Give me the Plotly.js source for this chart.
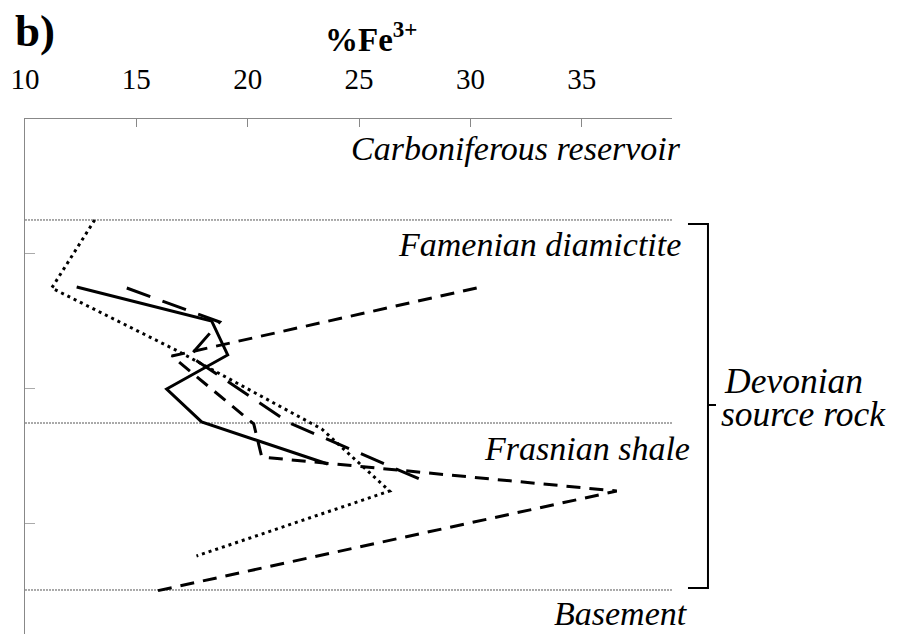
<!DOCTYPE html>
<html>
<head>
<meta charset="utf-8">
<script src="https://cdn.plot.ly/plotly-3.0.1.min.js"></script>
<style>html,body{margin:0;padding:0;background:#fff;}#chart{width:898px;height:634px;}</style>
</head>
<body>
<div id="chart"></div>
<script>
// %Fe3+ profiles (x) against relative depth (y, increasing downward)
const solidX  = [12.32, 18.38, 19.10, 16.36, 17.93, 23.59];
const solidY  = [1.244, 1.496, 1.748, 2.000, 2.244, 2.556];
const dottedX = [13.13, 11.20, 16.86, 23.32, 24.80, 26.37, 17.70];
const dottedY = [0.748, 1.252, 1.719, 2.296, 2.519, 2.756, 3.237];
const longDashX = [14.57, 18.74, 17.40, 21.88, 27.72];
const longDashY = [1.252, 1.504, 1.756, 2.252, 2.667];
const dashX = [30.28, 16.59, 20.27, 20.63, 36.57, 15.91];
const dashY = [1.252, 1.756, 2.259, 2.504, 2.756, 3.496];

// unit boundaries (depth)
const boundaries = [0.748, 2.252, 3.489];
const xTicks = [10, 15, 20, 25, 30, 35];
const yTicks = [1, 2, 3];
const unitLabels = ['Carboniferous reservoir', 'Famenian diamictite', 'Frasnian shale', 'Basement'];
const groupLabel = ['Devonian', 'source rock'];

const serif = 'Liberation Serif';

function tr(x, y, dash) {
  return {x: x, y: y, type: 'scatter', mode: 'lines',
    line: {color: '#000', width: 3, dash: dash}, hoverinfo: 'skip', showlegend: false};
}
const data = [
  tr(dottedX, dottedY, '3px,4px'),
  tr(dashX, dashY, '14px,9px'),
  tr(longDashX, longDashY, '25px,13px'),
  tr(solidX, solidY, 'solid')
];

const shapes = boundaries.map(b => ({
  type: 'line', xref: 'paper', yref: 'y', x0: 0, x1: 1, y0: b, y1: b,
  line: {color: '#555', width: 1, dash: '2px,1px'}, layer: 'below'
}));
shapes.push({
  type: 'path', xref: 'paper', yref: 'paper',
  path: 'M1.0247,0.7961 L1.0556,0.7961 L1.0556,0.4447 L1.068,0.4447 L1.0556,0.4447 L1.0556,0.0893 L1.0247,0.0893',
  line: {color: '#000', width: 2}
});

function ital(s) { return {family: serif, size: s, color: '#000', style: 'italic'}; }
const pos = [
  {x: 1.0170, y: 0.22, xanchor: 'right'},
  {x: 1.0170, y: 0.926, xanchor: 'right'},
  {x: 1.0309, y: 2.44, xanchor: 'right'},
  {x: 1.0278, y: 3.665, xanchor: 'right'}
];
const annotations = unitLabels.map((t, i) => Object.assign({text: t, xref: 'paper', yref: 'y', yanchor: 'middle',
  showarrow: false, font: ital(34)}, pos[i]));
annotations.push({text: groupLabel[0], xref: 'paper', yref: 'y', x: 1.0773, y: 1.94, xanchor: 'left', yanchor: 'middle', showarrow: false, font: ital(35.5)});
annotations.push({text: groupLabel[1], xref: 'paper', yref: 'y', x: 1.0726, y: 2.185, xanchor: 'left', yanchor: 'middle', showarrow: false, font: ital(35.5)});
annotations.push({text: 'b)', xref: 'paper', yref: 'paper', x: -0.019, y: 1.17, xanchor: 'left', yanchor: 'middle',
  showarrow: false, font: {family: serif, size: 45, color: '#000', weight: 'bold'}});
annotations.push({text: '%Fe<sup>3+</sup>', xref: 'paper', yref: 'paper', x: 0.535, y: 1.16, xanchor: 'center', yanchor: 'middle',
  showarrow: false, font: {family: serif, size: 33, color: '#000', weight: 'bold'}});

const layout = {
  width: 898, height: 634,
  margin: {l: 25, r: 226, t: 119, b: 0, pad: 0},
  paper_bgcolor: '#fff', plot_bgcolor: '#fff',
  showlegend: false,
  xaxis: {side: 'top', range: [10, 39.05], tickvals: xTicks, ticks: 'inside', ticklen: 8, tickcolor: '#888',
    showline: true, linecolor: '#888', linewidth: 1, showgrid: false, zeroline: false,
    tickfont: {family: serif, size: 29, color: '#000'}, ticklabelstandoff: 17},
  yaxis: {range: [3.815, 0], tickvals: yTicks, ticks: 'inside', ticklen: 10, tickcolor: '#aaa',
    showticklabels: false, showline: true, linecolor: '#888', linewidth: 1, showgrid: false, zeroline: false},
  shapes: shapes,
  annotations: annotations
};
Plotly.newPlot('chart', data, layout, {staticPlot: true});
</script>
</body>
</html>
